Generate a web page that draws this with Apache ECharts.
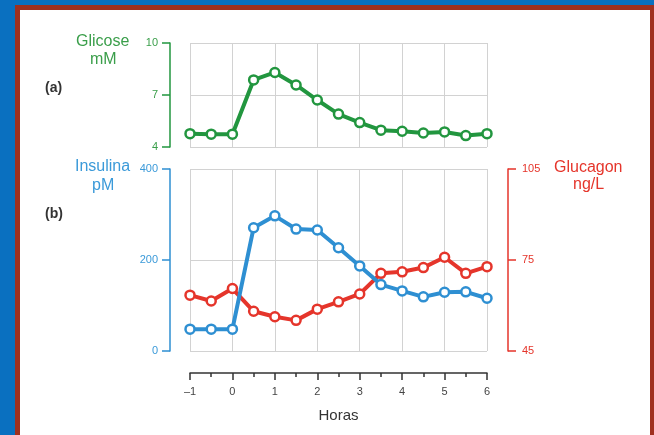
<!DOCTYPE html>
<html>
<head>
<meta charset="utf-8">
<script src="https://cdn.jsdelivr.net/npm/echarts@6/dist/echarts.min.js"></script>
<style>
html,body{margin:0;padding:0;width:654px;height:435px;overflow:hidden;background:#0a70c0;}
#frame{position:absolute;left:15px;top:5px;width:630px;height:500px;border:5px solid #a0301f;background:#fff;}
#chart{position:absolute;left:0;top:0;width:654px;height:435px;}
</style>
</head>
<body>
<div id="frame"></div>
<div id="chart"></div>
<script>
const hours = [-1,-0.5,0,0.5,1,1.5,2,2.5,3,3.5,4,4.5,5,5.5,6];
const glucose = [4.77,4.74,4.74,7.87,8.30,7.58,6.71,5.90,5.41,4.97,4.91,4.81,4.87,4.66,4.77];
const insulin = [48,48,48,271,297,268,266,227,187,146,132,119,129,130,116];
const glucagon = [63.4,61.5,65.6,58.1,56.3,55.1,58.8,61.2,63.8,70.6,71.1,72.5,75.9,70.6,72.8];
const glucoseTicks = [4,7,10];
const insulinTicks = [0,200,400];
const glucagonTicks = [45,75,105];
const hourTicks = [-1,0,1,2,3,4,5,6];

const GREEN='#22963f', GREEN_T='#3a9e4a';
const BLUE='#2e8fd2', BLUE_T='#3b9ad9';
const RED='#e5352b', RED_T='#e5352b';
const GRID='#d2d2d2';
const FONT='"Liberation Sans", Arial, sans-serif';

const gBase = glucoseTicks[0], gStep = glucoseTicks[1]-glucoseTicks[0];
const cBase = glucagonTicks[0], cStep = glucagonTicks[1]-glucagonTicks[0];

const chart = echarts.init(document.getElementById('chart'), null, {renderer:'canvas'});

function yAxisBase(color, gridIndex, pos, offset){
  return {
    type:'value', gridIndex, position:pos, offset,
    axisLine:{show:true, onZero:false, lineStyle:{color, width:1.5}},
    axisTick:{show:true, inside:false, length:8, lineStyle:{color, width:1.5}},
    splitLine:{show:true, lineStyle:{color:GRID, width:1}}
  };
}
const markerSeries = (name, xi, yi, data, color, z) => ({
  name, type:'line', xAxisIndex:xi, yAxisIndex:yi, data,
  symbol:'circle', symbolSize:9, showSymbol:true,
  lineStyle:{color, width:4}, itemStyle:{color:'#fff', borderColor:color, borderWidth:2.5},
  z, animation:false
});

const option = {
  animation:false,
  textStyle:{fontFamily:FONT},
  grid:[
    {left:190, width:297, top:43, height:104},
    {left:190, width:297, top:169, height:182}
  ],
  xAxis:[
    {type:'value', gridIndex:0, min:hourTicks[0], max:hourTicks[hourTicks.length-1], interval:1, position:'bottom',
     axisLine:{show:false, onZero:false}, axisTick:{show:false}, axisLabel:{show:false},
     splitLine:{show:true, lineStyle:{color:GRID, width:1}}},
    {type:'value', gridIndex:1, min:hourTicks[0], max:hourTicks[hourTicks.length-1], interval:1, position:'top',
     axisLine:{show:false, onZero:false}, axisTick:{show:false}, axisLabel:{show:false},
     splitLine:{show:true, lineStyle:{color:GRID, width:1}}},
    {type:'value', gridIndex:1, min:hourTicks[0], max:hourTicks[hourTicks.length-1], interval:1, position:'bottom', offset:22,
     axisLine:{show:true, onZero:false, lineStyle:{color:'#333', width:1.5}},
     axisTick:{show:true, inside:false, length:7, lineStyle:{color:'#333', width:1.5}},
     minorTick:{show:true, splitNumber:2, length:4, lineStyle:{color:'#333', width:1.5}},
     axisLabel:{color:'#444', fontSize:11, fontFamily:FONT, margin:13,
       formatter:v => v<0 ? '\u2013'+Math.abs(v) : String(v)},
     splitLine:{show:false},
     name:'Horas', nameLocation:'middle', nameGap:35,
     nameTextStyle:{color:'#333', fontSize:15, fontFamily:FONT}}
  ],
  yAxis:[
    Object.assign(yAxisBase(GREEN, 0, 'left', 20), {
      min:0, max:glucoseTicks[2]-gBase, interval:gStep,
      axisLabel:{color:GREEN_T, fontSize:11, fontFamily:FONT, margin:12, formatter:v=>String(v+gBase)}
    }),
    Object.assign(yAxisBase(BLUE, 1, 'left', 20), {
      min:insulinTicks[0], max:insulinTicks[2], interval:insulinTicks[1]-insulinTicks[0],
      axisLabel:{color:BLUE_T, fontSize:11, fontFamily:FONT, margin:12}
    }),
    Object.assign(yAxisBase(RED, 1, 'right', 21), {
      min:0, max:glucagonTicks[2]-cBase, interval:cStep,
      splitLine:{show:false},
      axisLabel:{color:RED_T, fontSize:11, fontFamily:FONT, margin:14, formatter:v=>String(v+cBase)}
    })
  ],
  series:[
    markerSeries('Glicose', 0, 0, hours.map((h,i)=>[h, glucose[i]-gBase]), GREEN, 3),
    markerSeries('Glucagon', 1, 2, hours.map((h,i)=>[h, glucagon[i]-cBase]), RED, 3),
    markerSeries('Insulina', 1, 1, hours.map((h,i)=>[h, insulin[i]]), BLUE, 4)
  ],
  graphic:[
    {type:'text', left:76, top:34, style:{text:'Glicose', fill:GREEN_T, font:'16px '+FONT}},
    {type:'text', left:90, top:52, style:{text:'mM', fill:GREEN_T, font:'16px '+FONT}},
    {type:'text', left:45, top:81, style:{text:'(a)', fill:'#333', font:'bold 14px '+FONT}},
    {type:'text', left:75, top:159, style:{text:'Insulina', fill:BLUE_T, font:'16px '+FONT}},
    {type:'text', left:92, top:178, style:{text:'pM', fill:BLUE_T, font:'16px '+FONT}},
    {type:'text', left:45, top:207, style:{text:'(b)', fill:'#333', font:'bold 14px '+FONT}},
    {type:'text', left:554, top:160, style:{text:'Glucagon', fill:RED_T, font:'16px '+FONT}},
    {type:'text', left:573, top:177, style:{text:'ng/L', fill:RED_T, font:'16px '+FONT}}
  ]
};
chart.setOption(option);
</script>
</body>
</html>
